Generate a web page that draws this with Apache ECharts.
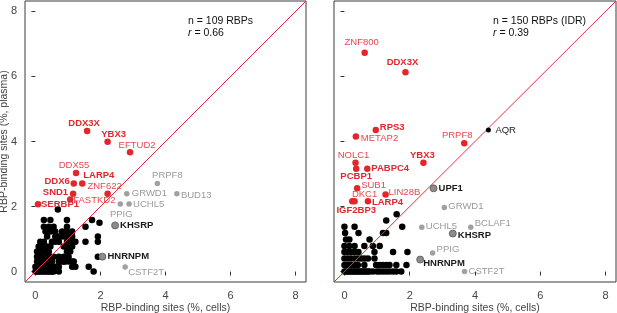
<!DOCTYPE html>
<html lang="en">
<head>
<meta charset="UTF-8">
<title>RBP-binding sites</title>
<script src="https://cdn.jsdelivr.net/npm/echarts@6/dist/echarts.min.js"></script>
<style>
  html, body { margin: 0; padding: 0; background: #fff; }
  #dv { width: 617px; height: 313px; }
</style>
</head>
<body>
<div id="dv"></div>
<script>
// ---- data ----
var axisMin = -0.32, axisMax = 8.32
var tickValues = [0, 2, 4, 6, 8]

// left panel (109 RBPs)
var leftNames  = ['DDX3X','YBX3','EFTUD2','DDX55','DDX6','LARP4','ZNF622','SND1','FASTKD2','SERBP1',
                  'PRPF8','BUD13','GRWD1','UCHL5','PPIG','KHSRP','HNRNPM','CSTF2T']
var leftX      = [1.59,2.22,2.91,1.25,1.18,1.44,2.22,1.16,1.07,0.08, 3.75,4.35,2.81,2.88,2.61,2.45,2.06,2.76]
var leftY      = [4.32,3.99,3.67,3.03,2.71,2.71,2.39,2.39,2.22,2.07, 2.71,2.39,2.39,2.08,2.08,1.42,0.46,0.14]
var leftGroup  = ['redBold','redBold','red','red','redBold','redBold','red','redBold','red','redBold',
                  'gray','gray','gray','gray','gray','grayBold','grayBold','gray']
var leftBlackX = [0,0.05,0.1,0.15,0.2,0.26,0.31,0.36,0.41,0.46,0.51,0.56,0.72,1.79,
                  0,0.1,0.2,0.26,0.31,0.36,0.46,0.51,0.61,0.72,1.13,1.23,1.64,
                  0.05,0.1,0.15,0.26,0.31,0.41,0.51,0.72,0.82,0.87,0.92,1.02,1.13,1.18,
                  0.05,0.15,0.2,0.36,0.46,0.56,0.72,0.87,1.02,1.92,
                  0.05,0.15,0.26,0.41,0.97,1.07,
                  0.1,0.2,0.36,0.46,0.87,0.97,1.13,
                  0.15,0.26,0.51,0.61,0.72,0.97,1.13,1.23,1.54,1.92,
                  0.36,0.61,0.72,0.82,0.92,1.02,1.13,1.92,
                  0.31,0.46,0.61,0.82,0.97,1.13,
                  0.26,0.41,0.56,0.97,1.54,1.97,
                  0.26,0.46,0.97,1.74,
                  0.69]
var leftBlackY = [0,0,0,0,0,0,0,0,0,0,0,0,0,0,
                  0.15,0.15,0.15,0.15,0.15,0.15,0.15,0.15,0.15,0.15,0.15,0.15,0.15,
                  0.31,0.31,0.31,0.31,0.31,0.31,0.31,0.31,0.31,0.31,0.31,0.31,0.31,0.31,
                  0.46,0.46,0.46,0.46,0.46,0.46,0.46,0.46,0.46,0.46,
                  0.62,0.62,0.62,0.62,0.62,0.62,
                  0.77,0.77,0.77,0.77,0.77,0.77,0.77,
                  0.92,0.92,0.92,0.92,0.92,0.92,0.92,0.92,0.92,0.92,
                  1.08,1.08,1.08,1.08,1.08,1.08,1.08,1.08,
                  1.23,1.23,1.23,1.23,1.23,1.23,
                  1.38,1.38,1.38,1.38,1.38,1.5,
                  1.59,1.59,1.59,1.59,
                  1.91]

// right panel (150 RBPs, IDR)
var rightNames = ['ZNF800','DDX3X','RPS3','METAP2','PRPF8','AQR','NOLC1','YBX3','PABPC4','PCBP1',
                  'SUB1','UPF1','LIN28B','DKC1','LARP4','IGF2BP3','GRWD1','UCHL5','BCLAF1','KHSRP',
                  'PPIG','HNRNPM','CSTF2T']
var rightX     = [0.62,1.87,0.96,0.35,3.67,4.41,0.34,2.42,0.70,0.36, 0.39,2.73,1.26,0.31,0.72,0.24,3.06,2.37,3.87,3.32, 2.70,2.32,3.68]
var rightY     = [6.73,6.13,4.35,4.15,3.95,4.35,3.35,3.35,3.16,3.16, 2.56,2.56,2.37,2.16,2.16,2.16,1.97,1.36,1.36,1.17, 0.57,0.37,0]
var rightGroup = ['red','redBold','redBold','red','red','black','red','redBold','redBold','redBold',
                  'red','grayBold','red','red','redBold','redBold','gray','gray','gray','grayBold',
                  'gray','grayBold','gray']
var rightBlackX = [0,0.05,0.1,0.15,0.2,0.26,0.31,0.36,0.41,0.46,0.51,0.56,0.61,0.66,0.72,0.77,0.87,1.0,1.08,1.18,1.28,1.38,1.49,1.59,1.74,
                   0,0.1,0.2,0.31,0.41,0.61,0.97,1.08,1.18,1.28,1.38,1.59,1.9,
                   0,0.1,0.2,0.31,0.41,0.51,0.61,0.72,0.92,
                   0,0.1,0.2,0.31,0.43,0.92,1.49,1.93,
                   0,0.15,0.31,0.61,0.87,1.08,
                   0.05,0.15,0.77,
                   0.02,0.43,1.18,1.28,
                   0,0.31,1.77,
                   1.28,
                   1.6]
var rightBlackY = [0,0,0,0,0,0,0,0,0,0,0,0,0,0,0,0,0,0,0,0,0,0,0,0,0,
                   0.2,0.2,0.2,0.2,0.2,0.2,0.2,0.2,0.2,0.2,0.2,0.2,0.2,
                   0.4,0.4,0.4,0.4,0.4,0.4,0.4,0.4,0.4,
                   0.6,0.6,0.6,0.6,0.6,0.6,0.6,0.6,
                   0.79,0.79,0.79,0.79,0.79,0.79,
                   0.99,0.99,0.99,
                   1.19,1.19,1.19,1.19,
                   1.38,1.38,1.38,
                   1.57,
                   1.76]

// ---- label placement (pixels relative to the dot) ----
var leftLabelPos = {
  DDX3X:['center',-3,-8], YBX3:['center',6,-7], EFTUD2:['center',7,-7], DDX55:['center',-2,-8],
  DDX6:['right',-4,-2], LARP4:['left',1,-8], ZNF622:['center',-3,-7], SND1:['right',-5,-1],
  FASTKD2:['left',3,1], SERBP1:['left',3,0], PRPF8:['center',10,-8], BUD13:['left',4,2],
  GRWD1:['left',5,0], UCHL5:['left',4,0], PPIG:['center',1,10], KHSRP:['left',5,0],
  HNRNPM:['left',5,0], CSTF2T:['left',3,5]
}
var rightLabelPos = {
  ZNF800:['center',-3,-10], DDX3X:['center',-3,-10], RPS3:['left',4,-3], METAP2:['left',5,2],
  PRPF8:['center',-7,-8], AQR:['left',7,0], NOLC1:['center',-2,-7], YBX3:['center',-1,-7],
  PABPC4:['left',4,0], PCBP1:['center',0,8], SUB1:['left',4,-3], UPF1:['left',5,0],
  LIN28B:['left',3,-2], DKC1:['center',10,-7], LARP4:['left',4,1], IGF2BP3:['center',4,9],
  GRWD1:['left',4,-1], UCHL5:['left',4,-1], BCLAF1:['left',4,-4], KHSRP:['left',5,2],
  PPIG:['left',4,-4], HNRNPM:['left',3,4], CSTF2T:['left',4,0]
}

var groupStyle = {
  redBold:  { dot:'#e2262c', size:6.5, text:'#e2262c', weight:'bold' },
  red:      { dot:'#e2262c', size:6.5, text:'#e8484f', weight:'normal' },
  gray:     { dot:'#a0a0a0', size:5.5, text:'#9a9a9a', weight:'normal' },
  grayBold: { dot:'#8c8c8c', size:7,   text:'#1a1a1a', weight:'bold', border:'#555' },
  black:    { dot:'#000000', size:5,   text:'#1a1a1a', weight:'normal' }
}

var FONT = 'Liberation Sans, Arial, Helvetica, sans-serif'

function labeledSeries(names, xs, ys, groups, pos, gi) {
  var out = []
  Object.keys(groupStyle).forEach(function (g) {
    var st = groupStyle[g]
    var data = []
    names.forEach(function (n, i) {
      if (groups[i] !== g) return
      var p = pos[n]
      data.push({
        name: n,
        value: [xs[i], ys[i]],
        label: { show: true, position: 'inside', align: p[0], verticalAlign: 'middle', offset: [p[1], p[2]], formatter: n }
      })
    })
    if (!data.length) return
    out.push({
      type: 'scatter', xAxisIndex: gi, yAxisIndex: gi, z: 4,
      symbolSize: st.size, silent: true,
      itemStyle: { color: st.dot, opacity: 1, borderColor: st.border || st.dot, borderWidth: st.border ? 0.8 : 0 },
      label: { color: st.text, fontWeight: st.weight, fontSize: 9.5, fontFamily: FONT },
      data: data
    })
  })
  return out
}

function blackSeries(xs, ys, gi) {
  return {
    type: 'scatter', xAxisIndex: gi, yAxisIndex: gi, z: 2, silent: true,
    symbolSize: 6.5, itemStyle: { color: '#000', opacity: 1 },
    data: xs.map(function (x, i) { return [x, ys[i]] })
  }
}

function diagonal(gi) {
  return {
    type: 'line', xAxisIndex: gi, yAxisIndex: gi, z: 3, silent: true, symbol: 'none',
    lineStyle: { color: '#e0323a', width: 1 },
    data: [[axisMin, axisMin], [axisMax, axisMax]]
  }
}

function xAx(gi) {
  return {
    gridIndex: gi, type: 'value', min: axisMin, max: axisMax,
    axisLine: { show: false },
    axisTick: { show: true, inside: false, length: 4, customValues: tickValues, lineStyle: { color: '#333' } },
    axisLabel: { customValues: tickValues, fontSize: 11, color: '#444', margin: 8, fontFamily: FONT },
    splitLine: { show: false },
    name: 'RBP-binding sites (%, cells)', nameLocation: 'middle', nameGap: 21, nameMoveOverlap: false,
    nameTextStyle: { fontSize: 10.5, color: '#444', fontFamily: FONT }
  }
}
function yAx(gi, withLabels) {
  var a = {
    gridIndex: gi, type: 'value', min: axisMin, max: axisMax,
    axisLine: { show: false },
    axisTick: { show: true, inside: false, length: 4, customValues: tickValues, lineStyle: { color: '#333' } },
    axisLabel: { show: withLabels, customValues: tickValues, fontSize: 11, color: '#444', margin: 8, fontFamily: FONT },
    splitLine: { show: false }
  }
  if (withLabels) {
    a.name = 'RBP-binding sites (%, plasma)'
    a.nameLocation = 'middle'
    a.nameGap = 15
    a.nameMoveOverlap = false
    a.nameTextStyle = { fontSize: 10.5, color: '#444', fontFamily: FONT }
  }
  return a
}

function statText(left, line1, rval) {
  return [{
    type: 'text', left: left, top: 16,
    style: { text: line1, fontSize: 10.5, fill: '#111', fontFamily: FONT }
  }, {
    type: 'text', left: left, top: 28,
    style: { text: '{i|r} = ' + rval, fontSize: 10.5, fill: '#111', fontFamily: FONT,
             rich: { i: { fontStyle: 'italic', fontSize: 10.5, fill: '#111', fontFamily: FONT } } }
  }]
}

var myChart = echarts.init(document.getElementById('dv'), null, { renderer: 'canvas' })
var gridBox = { show: true, borderColor: '#3a3a3a', borderWidth: 1, backgroundColor: 'transparent',
                containLabel: false, outerBoundsMode: 'none' }
var option = {
  animation: false,
  backgroundColor: '#fff',
  grid: [
    Object.assign({ left: 25, top: 1, width: 281, height: 281 }, gridBox),
    Object.assign({ left: 334, top: 1, width: 282, height: 281 }, gridBox)
  ],
  xAxis: [xAx(0), xAx(1)],
  yAxis: [yAx(0, true), yAx(1, false)],
  graphic: statText(188, 'n = 109 RBPs', '0.66').concat(statText(493, 'n = 150 RBPs (IDR)', '0.39')),
  series: [blackSeries(leftBlackX, leftBlackY, 0), blackSeries(rightBlackX, rightBlackY, 1), diagonal(0), diagonal(1)]
    .concat(labeledSeries(leftNames, leftX, leftY, leftGroup, leftLabelPos, 0))
    .concat(labeledSeries(rightNames, rightX, rightY, rightGroup, rightLabelPos, 1))
}
myChart.setOption(option)
</script>
</body>
</html>
